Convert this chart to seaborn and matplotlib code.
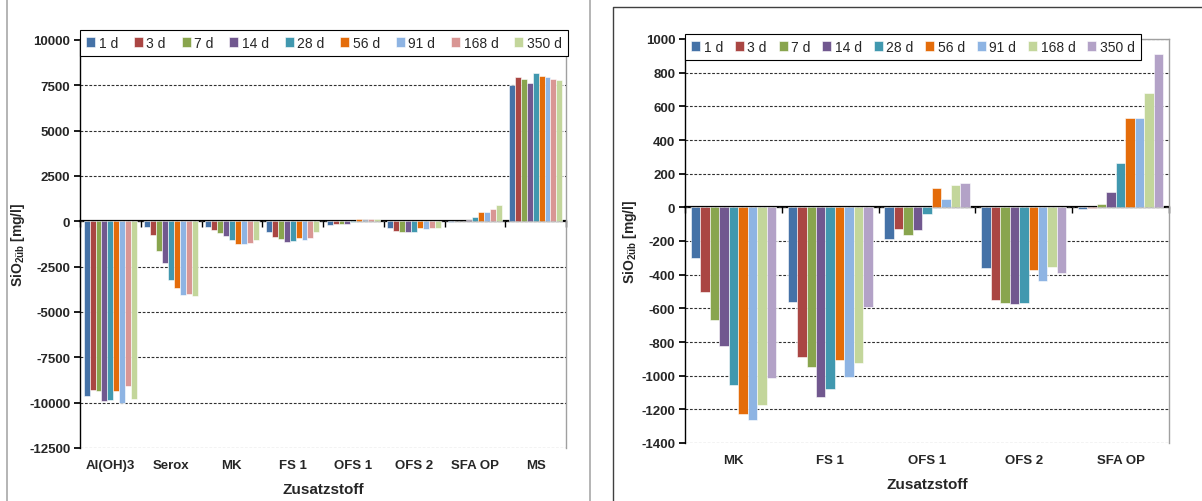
import pandas as pd
import matplotlib.pyplot as plt
import numpy as np
import seaborn as sns

sns.set_theme(style='white')
plt.rcParams['font.family'] = ['Liberation Sans', 'DejaVu Sans']
plt.rcParams['mathtext.fontset'] = 'custom'
plt.rcParams['mathtext.rm'] = 'Liberation Sans:bold'
plt.rcParams['mathtext.it'] = 'Liberation Sans:bold'
plt.rcParams['mathtext.bf'] = 'Liberation Sans:bold'
plt.rcParams['axes.unicode_minus'] = False

days = ['1 d', '3 d', '7 d', '14 d', '28 d', '56 d', '91 d', '168 d', '350 d']

stoffe_left = ['Al(OH)3', 'Serox', 'MK', 'FS 1', 'OFS 1', 'OFS 2', 'SFA OP', 'MS']
stoffe_right = ['MK', 'FS 1', 'OFS 1', 'OFS 2', 'SFA OP']

# SiO2 values per additive, one value per age (1 d ... 350 d)
al_oh3 = [-9650, -9280, -9370, -9890, -9830, -9370, -10020, -9100, -9780]
serox = [-310, -740, -1620, -2290, -3260, -3670, -4070, -4030, -4130]
mk = [-301, -503, -670, -826, -1054, -1227, -1262, -1177, -1011]
fs1 = [-563, -888, -949, -1124, -1082, -904, -1005, -926, -593]
ofs1 = [-186, -129, -162, -137, -42, 115, 50, 131, 147]
ofs2 = [-362, -548, -568, -574, -568, -370, -440, -354, -392]
sfa_op = [-12, -2, 20, 93, 265, 533, 533, 680, 910]
ms = [7500, 7970, 7830, 7645, 8195, 8030, 7970, 7860, 7790]

werte = {'Al(OH)3': al_oh3, 'Serox': serox, 'MK': mk, 'FS 1': fs1,
         'OFS 1': ofs1, 'OFS 2': ofs2, 'SFA OP': sfa_op, 'MS': ms}

base_cols = ['#4572A7', '#AA4643', '#89A54E', '#71588F', '#4198AF',
             '#E46C0A', '#8EB4E3']
pal_left = base_cols + ['#D99694', '#C3D69B']
pal_right = base_cols + ['#C3D69B', '#B3A2C7']


def long_df(stoffe):
    rows = []
    for s in stoffe:
        for d, v in zip(days, werte[s]):
            rows.append({'Zusatzstoff': s, 'Zeit': d, 'SiO2': v})
    return pd.DataFrame(rows)


fig = plt.figure(figsize=(12.02, 5.02), dpi=100)
ax1 = fig.add_axes([80 / 1202, 1 - 449 / 502, 486 / 1202, 408 / 502])
ax2 = fig.add_axes([685 / 1202, 1 - 444 / 502, 484 / 1202, 404 / 502])


def draw(ax, stoffe, pal, ylim, step, leg_box, ylab_x):
    df = long_df(stoffe)
    sns.barplot(data=df, x='Zusatzstoff', y='SiO2', hue='Zeit', palette=pal,
                width=0.88, gap=0, edgecolor='white', linewidth=0.4,
                saturation=1, ax=ax)
    ax.set_ylim(*ylim)
    ax.set_xlim(-0.5, len(stoffe) - 0.5)
    yt = np.arange(ylim[0], ylim[1] + 1, step)
    ax.set_yticks(yt, labels=[str(v) for v in yt], fontweight='bold', fontsize=9.5)
    ax.set_xticks(range(len(stoffe)), labels=stoffe, fontweight='bold', fontsize=9.5)
    ax.set_axisbelow(True)
    ax.yaxis.grid(True, color='#303030', linestyle=(0, (2.5, 1.5)), linewidth=0.8)
    ax.xaxis.grid(False)
    ax.tick_params(axis='y', direction='out', length=4, color='black', pad=3, left=True)
    ax.tick_params(axis='x', length=0, pad=8)
    ax.spines['left'].set_color('black')
    ax.spines['left'].set_linewidth(1)
    ax.spines['bottom'].set_visible(False)
    for sp in ['right', 'top']:
        ax.spines[sp].set_color('#a0a0a0')
        ax.spines[sp].set_linewidth(1)
    ax.set_xlabel('Zusatzstoff', fontsize=11, fontweight='bold', labelpad=8)
    ax.set_ylabel(r'SiO$_{2üb}$ [mg/l]', fontsize=10, fontweight='bold')
    ax.yaxis.set_label_coords(ylab_x, 0.5)

    # category axis at zero
    pos0 = (0 - ylim[0]) / (ylim[1] - ylim[0])
    sec = ax.secondary_xaxis(pos0)
    sec.set_xticks(np.arange(-0.5, len(stoffe), 1.0))
    sec.set_xticklabels([])
    sec.tick_params(axis='x', direction='in', length=4, width=1, color='black')
    for sp in sec.spines.values():
        sp.set_color('black')
        sp.set_linewidth(1.6)

    handles, labels = ax.get_legend_handles_labels()
    ax.legend(handles, labels, ncol=9, bbox_to_anchor=leg_box,
              bbox_transform=fig.transFigure, loc='lower left', mode='expand',
              frameon=True, fancybox=False, framealpha=1, edgecolor='black',
              fontsize=10, handlelength=0.65, handleheight=0.65,
              handletextpad=0.25, columnspacing=0.6, borderpad=0.45,
              borderaxespad=0)
    ax.get_legend().get_frame().set_linewidth(0.8)


draw(ax1, stoffe_left, pal_left, (-12500, 10000), 2500,
     (80 / 1202, 1 - 57 / 502, 488 / 1202, 27 / 502), -0.11)
draw(ax2, stoffe_right, pal_right, (-1400, 1000), 200,
     (685 / 1202, 1 - 61 / 502, 456 / 1202, 28 / 502), -0.095)

# panel frames
fig.add_artist(plt.Line2D([7 / 1202, 7 / 1202], [0, 1], transform=fig.transFigure,
                          color='#a8a8a8', lw=1.2))
fig.add_artist(plt.Line2D([590 / 1202, 590 / 1202], [0, 1], transform=fig.transFigure,
                          color='#a8a8a8', lw=1.2))
fig.add_artist(plt.Line2D([613 / 1202, 613 / 1202, 1], [0, 1 - 7.5 / 502, 1 - 7.5 / 502],
                          transform=fig.transFigure, color='#404040', lw=1))

fig.savefig('out.png', dpi=100)
